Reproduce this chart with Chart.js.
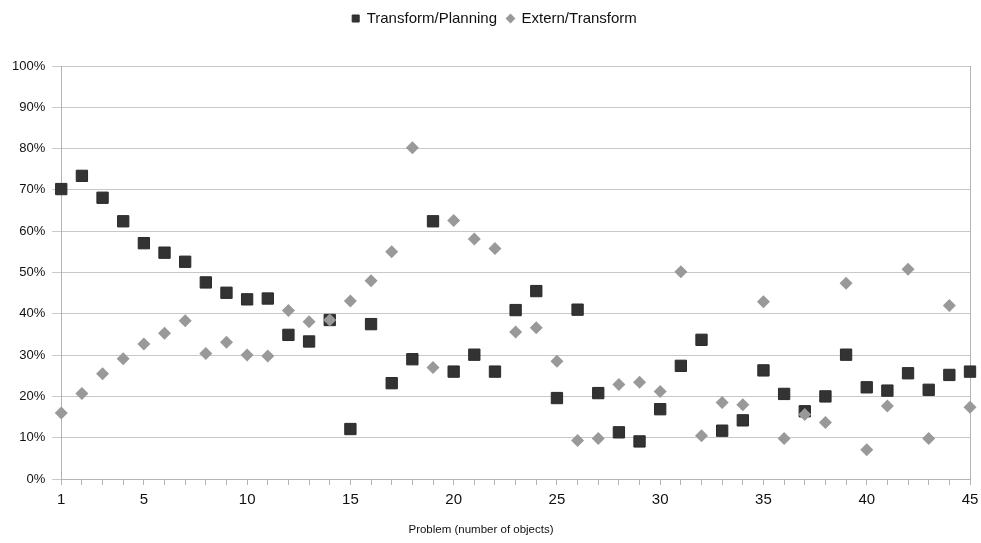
<!DOCTYPE html>
<html>
<head>
<meta charset="utf-8">
<script src="https://cdn.jsdelivr.net/npm/chart.js@4"></script>
<style>
  html, body { margin: 0; padding: 0; background: #fff; }
  #wrap { width: 981px; height: 543px; }
</style>
</head>
<body>
<div id="wrap"><canvas id="chart" width="981" height="543"></canvas></div>
<script>
// problem numbers 1..45
const problems = [1,2,3,4,5,6,7,8,9,10,11,12,13,14,15,16,17,18,19,20,21,22,23,24,25,
                  26,27,28,29,30,31,32,33,34,35,36,37,38,39,40,41,42,43,44,45];

// Transform/Planning (squares), percent
const transformPlanning = [70.2,73.4,68.1,62.4,57.1,54.8,52.6,47.6,45.1,43.5,43.7,34.9,33.3,38.5,12.1,
                           37.5,23.2,29.0,62.4,26.0,30.1,26.0,40.9,45.5,19.6,41.0,20.8,11.3,9.1,16.9,
                           27.4,33.7,11.7,14.2,26.3,20.6,16.4,20.0,30.1,22.2,21.4,25.6,21.6,25.2,26.0];

// Extern/Transform (diamonds), percent
const externTransform = [16.0,20.7,25.5,29.1,32.7,35.3,38.3,30.4,33.1,30.0,29.8,40.8,38.1,38.5,43.1,
                         48.0,55.0,80.2,27.0,62.6,58.1,55.8,35.6,36.6,28.5,9.3,9.8,22.9,23.4,21.2,
                         50.2,10.5,18.5,18.0,42.9,9.8,15.6,13.7,47.4,7.1,17.7,50.8,9.8,42.0,17.4];

const xLabels = [1, 5, 10, 15, 20, 25, 30, 35, 40, 45];
const xTitle = 'Problem (number of objects)';

const FONT = '"Liberation Sans", Arial, sans-serif';
const LINE = '#b4b4b4';

function toPoints(values) {
    return problems.map((p, i) => ({ x: p, y: values[i] }));
}

// extra room under the legend, and nudge it a little to the right
const legendGap = {
    id: 'legendGap',
    beforeInit(chart) {
        const legend = chart.legend;
        const fit = legend.fit;
        legend.fit = function () {
            fit.bind(this)();
            this.height += 30;
        };
        const draw = legend.draw;
        legend.draw = function () {
            const left = this.left;
            this.left = left + 14;
            draw.bind(this)();
            this.left = left;
        };
    }
};

// axis title sits a bit left of the plot centre in the original
const xAxisTitle = {
    id: 'xAxisTitle',
    afterDraw(chart) {
        const c = chart.ctx;
        c.save();
        c.font = '11.5px ' + FONT;
        c.fillStyle = '#111';
        c.textAlign = 'center';
        c.textBaseline = 'middle';
        c.fillText(xTitle, 481, 530);
        c.restore();
    }
};

const ctx = document.getElementById('chart').getContext('2d');
new Chart(ctx, {
    type: 'scatter',
    data: {
        datasets: [{
            label: 'Transform/Planning',
            data: toPoints(transformPlanning),
            pointStyle: 'rect',
            pointRadius: 8,
            pointHoverRadius: 8,
            backgroundColor: '#333333',
            borderColor: '#2b2b2b',
            borderWidth: 1,
            clip: false,
            order: 1
        }, {
            label: 'Extern/Transform',
            data: toPoints(externTransform),
            pointStyle: 'rectRot',
            pointRadius: 6.5,
            pointHoverRadius: 6.5,
            backgroundColor: '#999999',
            borderColor: '#999999',
            borderWidth: 0,
            clip: false,
            order: 0
        }]
    },
    options: {
        responsive: false,
        animation: false,
        layout: { padding: { left: 5, right: 11, top: 1, bottom: 28 } },
        plugins: {
            legend: {
                position: 'top',
                labels: {
                    usePointStyle: true,
                    boxWidth: 7,
                    boxHeight: 7,
                    padding: 10,
                    color: '#111',
                    font: { family: FONT, size: 15 },
                    sort: (a, b) => a.datasetIndex - b.datasetIndex
                }
            },
            tooltip: { enabled: false }
        },
        scales: {
            x: {
                type: 'linear',
                min: 1,
                max: 45,
                border: { color: LINE },
                grid: {
                    drawOnChartArea: true,
                    color: c => (c.tick && c.tick.value === 45) ? LINE : 'rgba(0,0,0,0)',
                    tickColor: LINE,
                    tickLength: 6
                },
                ticks: {
                    stepSize: 1,
                    autoSkip: false,
                    maxRotation: 0,
                    color: '#111',
                    font: { family: FONT, size: 15 },
                    padding: 6,
                    callback: v => xLabels.includes(v) ? String(v) : ''
                },
                afterFit: scale => {
                    scale.paddingLeft = 0;
                    scale.paddingRight = 0;
                }
            },
            y: {
                min: 0,
                max: 100,
                border: { color: LINE },
                grid: { color: '#c8c8c8', tickColor: '#c8c8c8', tickLength: 9 },
                ticks: {
                    stepSize: 10,
                    color: '#111',
                    font: { family: FONT, size: 13 },
                    padding: 7,
                    callback: v => v + '%'
                },
                afterFit: scale => {
                    scale.paddingTop = 0;
                    scale.paddingBottom = 0;
                }
            }
        }
    },
    plugins: [legendGap, xAxisTitle]
});
</script>
</body>
</html>
